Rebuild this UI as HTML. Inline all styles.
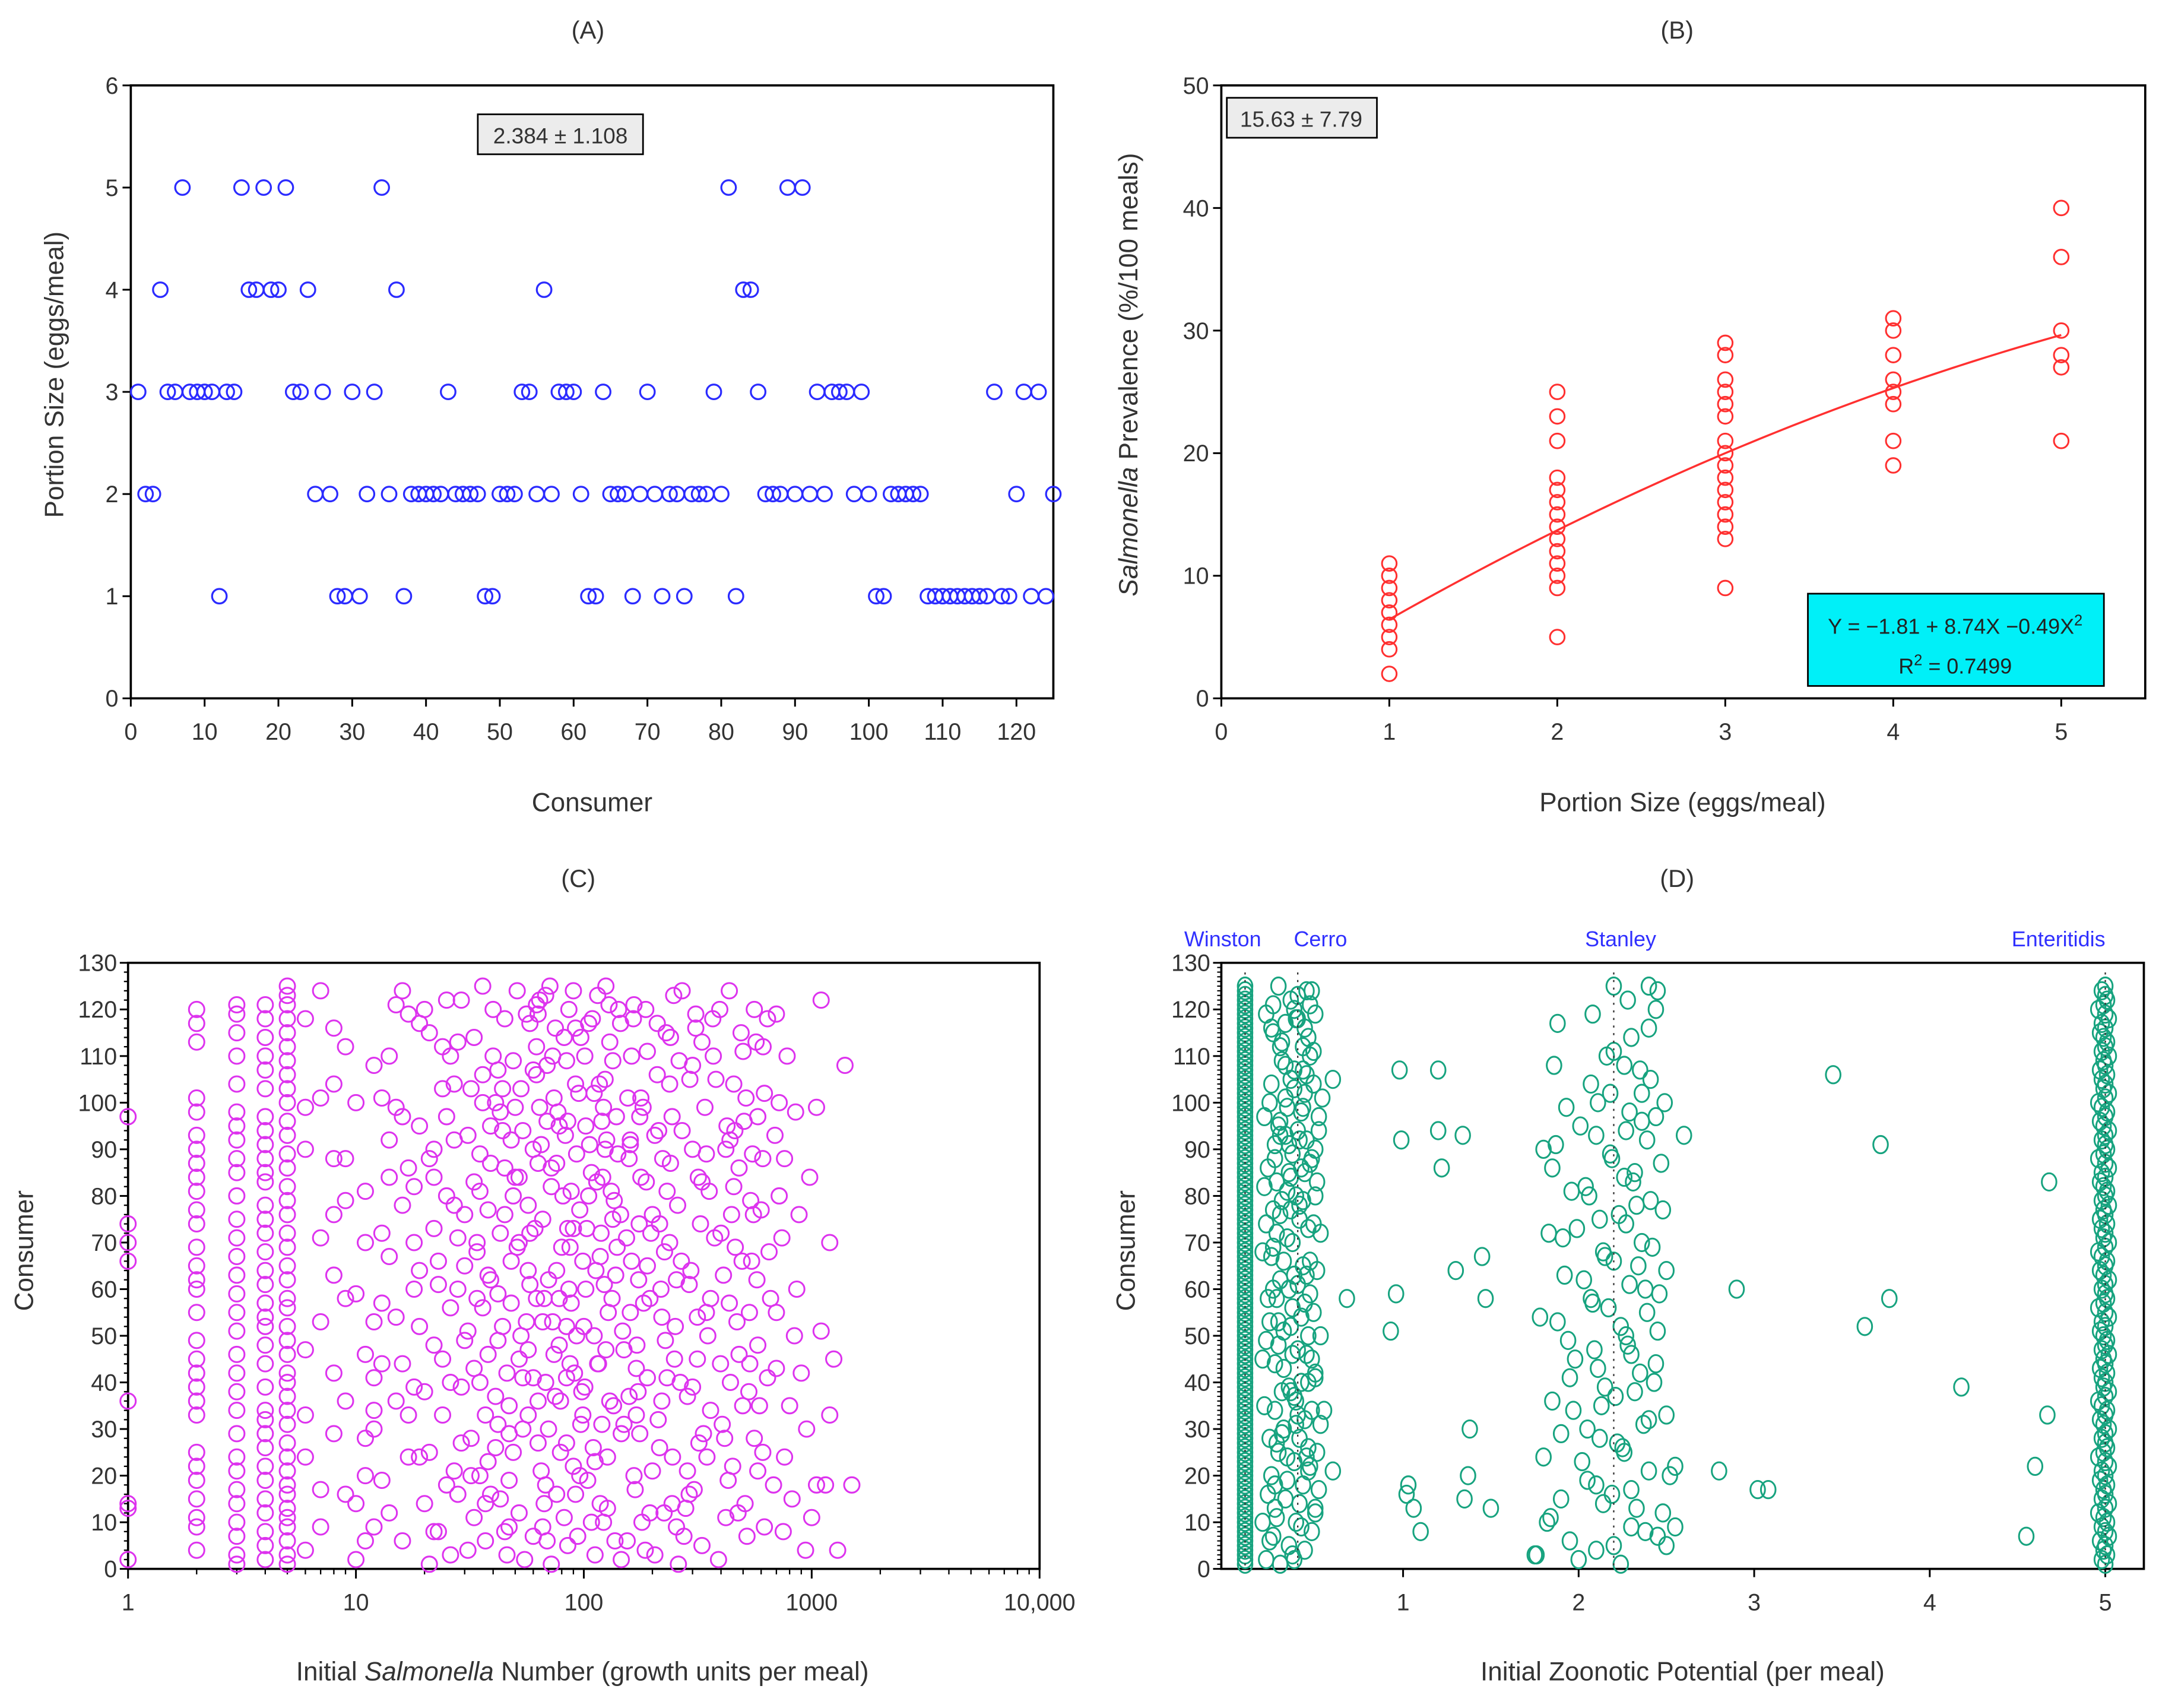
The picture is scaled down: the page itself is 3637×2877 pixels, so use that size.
<!DOCTYPE html>
<html><head><meta charset="utf-8"><style>
html,body{margin:0;padding:0;background:#fff;}
svg{display:block;font-family:"Liberation Sans",sans-serif;}
</style></head><body>
<svg id="fig" width="3637" height="2877" viewBox="0 0 1568 1240" preserveAspectRatio="none" xmlns="http://www.w3.org/2000/svg">
<rect x="0" y="0" width="1568" height="1240" fill="#fff"/>
<text x="427" y="28" font-size="18" text-anchor="middle" fill="#333">(A)</text>
<text x="1218" y="28" font-size="18" text-anchor="middle" fill="#333">(B)</text>
<text x="420" y="644" font-size="18" text-anchor="middle" fill="#333">(C)</text>
<text x="1218" y="644" font-size="18" text-anchor="middle" fill="#333">(D)</text>
<text x="430" y="589" font-size="19" text-anchor="middle" fill="#333">Consumer</text>
<text transform="translate(46,272) rotate(-90)" font-size="19" text-anchor="middle" fill="#333">Portion Size (eggs/meal)</text>
<text x="1222" y="589" font-size="19" text-anchor="middle" fill="#333">Portion Size (eggs/meal)</text>
<text transform="translate(826,272) rotate(-90)" font-size="19" text-anchor="middle" fill="#333"><tspan font-style="italic">Salmonella</tspan> Prevalence (%/100 meals)</text>
<text x="423" y="1220" font-size="19" text-anchor="middle" fill="#333">Initial <tspan font-style="italic">Salmonella</tspan> Number (growth units per meal)</text>
<text transform="translate(24,908) rotate(-90)" font-size="19" text-anchor="middle" fill="#333">Consumer</text>
<text x="1222" y="1220" font-size="19" text-anchor="middle" fill="#333">Initial Zoonotic Potential (per meal)</text>
<text transform="translate(824,908) rotate(-90)" font-size="19" text-anchor="middle" fill="#333">Consumer</text>
<g id="gA"></g>
<g id="gB"></g>
<g id="gC"></g>
<g id="gD"></g>
</svg>
<script>
// ---------- Panel A data ----------
const portionByConsumer = [3,2,2,4,3,3,5,3,3,3,3,1,3,3,5,4,4,5,4,4,5,3,3,4,2,3,2,1,1,3,1,2,3,5,2,4,1,2,2,2,2,2,3,2,2,2,2,1,1,2,2,2,3,3,2,4,2,3,3,3,2,1,1,3,2,2,2,1,2,3,2,1,2,2,1,2,2,2,3,2,5,1,4,4,3,2,2,2,5,2,5,2,3,2,3,3,3,2,3,2,1,1,2,2,2,2,2,1,1,1,1,1,1,1,1,1,3,1,1,2,3,1,3,1,2];
const aXTicks = [0,10,20,30,40,50,60,70,80,90,100,110,120];
const aYTicks = [0,1,2,3,4,5,6];
const aStatText = "2.384 ± 1.108";
// ---------- Panel B data ----------
const bPortion1 = [2,4,5,6,7,8,9,10,11];
const bPortion2 = [5,9,10,11,12,13,14,15,16,17,18,21,23,25];
const bPortion3 = [9,13,14,15,16,17,18,19,20,21,23,24,25,26,28,29];
const bPortion4 = [19,21,24,25,26,28,30,31];
const bPortion5 = [21,27,28,30,36,40];
const bCoef = [-1.81, 8.74, -0.49];
const bXTicks = [0,1,2,3,4,5];
const bYTicks = [0,10,20,30,40,50];
// ---------- Panel C data ----------
const cCol1 = [2,13,14,36,66,70,74,97];
const cCol2 = [4,9,11,15,19,22,25,33,36,39,42,45,49,55,60,62,65,69,74,77,81,84,87,90,93,98,101,113,117,120];
const cCol3 = [1,3,7,10,14,17,21,24,29,34,38,42,46,51,55,59,63,67,71,75,80,85,88,92,95,98,104,110,115,119,121];
const cCol4 = [2,5,8,12,15,19,22,26,29,32,34,39,44,48,52,54,57,61,64,68,72,75,78,83,85,88,91,94,97,103,107,110,114,118,121];
const cCol5 = [1,3,6,9,11,13,16,18,21,24,27,31,34,37,40,42,46,49,52,56,58,62,65,69,72,76,79,82,86,89,93,96,100,103,106,109,112,115,118,121,123,125];
const cCloud = [[6,4],[7,17],[8,29],[6,47],[9,58],[7,71],[8,88],[6,99],[9,112],[7,124],[6,33],[8,63],[7,9],[9,79],[6,118],[8,104],
[11,6],[13,19],[12,34],[16,44],[19,52],[14,67],[22,73],[17,86],[25,97],[12,108],[15,121],[20,14],[29,27],[18,39],[23,61],[27,92],[11,81],[13,101],[21,115],[26,3],[30,49],[10,59],[16,124],[24,33],
[33,11],[38,23],[45,8],[41,37],[52,45],[36,56],[48,66],[57,78],[35,89],[44,103],[62,112],[40,120],[55,2],[68,18],[47,29],[60,41],[73,53],[39,62],[66,75],[50,84],[78,95],[42,107],[58,117],[71,125],[34,70],[64,99],
[85,5],[92,16],[110,26],[98,38],[125,47],[88,57],[140,69],[105,80],[160,91],[95,102],[130,113],[115,123],[180,10],[150,31],[200,21],[170,43],[220,54],[190,65],[145,76],[240,87],[120,96],[210,106],[165,118],[260,1],
[280,13],[320,27],[300,39],[350,50],[290,61],[400,72],[330,83],[460,94],[380,105],[310,116],[520,7],[430,19],[590,35],[480,46],[360,58],[650,68],[540,79],[420,90],[720,100],[500,111],[270,124],[820,15],[610,25],[900,42],
[1000,11],[950,30],[1150,18],[1300,4],[1500,18],[1100,51],[1050,99],[1200,70],[1100,122],[1250,45],[980,84],[860,60],[760,88],[700,55],[1400,108],[1200,33],[880,76],[640,118],[580,97],[750,8],
[10,2],[14,12],[17,24],[12,30],[20,38],[11,46],[15,54],[19,64],[13,72],[18,82],[22,90],[10,100],[14,110],[17,119],[23,8],[28,16],[32,28],[26,40],[31,51],[28,60],[34,68],[25,80],[31,93],[27,104],[33,114],[29,122],
[37,6],[43,15],[49,25],[37,33],[46,42],[53,50],[42,59],[51,69],[38,77],[45,86],[54,94],[41,100],[49,109],[56,119],[36,125],[60,7],[65,21],[70,30],[63,36],[74,46],[67,58],[76,64],[61,73],[72,82],[65,91],[77,98],[69,108],[75,116],[62,121],
[82,11],[90,22],[99,33],[84,41],[93,50],[102,60],[87,69],[96,77],[108,85],[83,93],[92,104],[101,110],[86,120],[112,3],[118,14],[127,24],[135,35],[116,44],[128,55],[138,63],[119,72],[132,81],[141,89],[122,99],[134,109],[145,117],[125,125],
[155,6],[168,17],[176,29],[158,37],[171,48],[183,57],[162,66],[175,74],[188,83],[160,92],[178,101],[190,111],[166,121],[205,3],[225,12],[245,24],[212,32],[232,41],[252,52],[218,60],[238,70],[258,78],[222,88],[244,97],[262,109],[230,115],[248,123],
[275,7],[305,17],[335,29],[285,37],[315,45],[345,55],[295,64],[325,74],[355,81],[300,90],[340,99],[370,110],[310,119],[390,2],[420,11],[450,22],[405,31],[440,40],[470,53],[410,63],[445,76],[480,86],[425,95],[455,104],[490,115],[435,124],
[510,14],[560,28],[530,38],[580,48],[545,66],[600,77],[550,89],[620,102],[570,113],[680,18],[700,43],[660,58],[740,71],[690,93],[780,110],[800,35],[840,50],[620,9],[720,80],[560,120],
[9,16],[8,42],[9,88],[7,101],[8,116],[6,24],[9,36],[7,53],[8,76],[6,90],[11,20],[12,53],[16,78],[14,92],[19,117],[21,25],[24,45],[22,84],[26,110],[30,76],[35,40],[39,95],[44,52],[47,19],[53,103],[58,61],[63,87],[68,123],[79,36],[85,73],[97,114],[104,19],[113,64],[124,90],[137,6],[148,51],[156,101],[173,38],[187,120],[197,72],[213,94],[228,49],[255,9],[268,66],[292,105],[318,84],[347,24],[368,118],[398,44],[438,92],[462,69],[498,35],[505,96],[533,55],[575,62],[612,112],[640,41],[700,119],[760,24],[850,98],[940,4],[1050,18]];
const cCloudExtra = [[10,14],[11,28],[12,41],[13,57],[14,84],[15,99],[16,6],[17,33],[18,70],[19,95],[20,120],[21,1],[22,48],[23,66],[24,103],[25,18],[26,56],[27,78],[28,113],[29,39],
[31,4],[32,20],[33,43],[34,58],[35,81],[36,106],[37,14],[38,63],[39,87],[40,110],[41,26],[42,49],[43,72],[44,94],[45,118],[46,3],[47,35],[48,57],[49,80],[50,99],
[52,12],[54,30],[56,53],[58,72],[60,90],[62,106],[64,122],[66,9],[68,40],[70,62],[72,86],[74,101],[76,16],[78,48],[80,69],[82,114],[84,27],[86,60],[88,81],[90,124],
[94,7],[97,31],[100,52],[103,73],[106,91],[109,118],[112,23],[115,44],[118,67],[121,84],[124,105],[127,13],[130,36],[133,58],[136,79],[139,97],[142,120],[146,2],[150,47],[154,71],
[158,88],[162,110],[166,20],[170,33],[174,62],[178,84],[182,99],[186,4],[190,41],[195,58],[200,76],[205,93],[210,117],[215,26],[220,36],[226,68],[232,81],[238,104],[244,14],[250,45],
[12,9],[15,36],[18,60],[21,88],[24,112],[27,21],[30,65],[33,83],[36,100],[39,16],[42,31],[45,76],[48,92],[51,124],[54,41],[57,64],[60,107],[63,27],[66,53],[69,96],
[72,1],[75,37],[78,58],[81,80],[84,109],[87,44],[90,73],[93,89],[96,20],[99,66],[102,95],[105,117],[108,10],[111,50],[114,83],[117,104],[120,31],[123,61],[126,92],[129,121],
[11,70],[13,44],[16,97],[19,24],[22,8],[25,122],[28,71],[32,103],[35,20],[38,46],[43,98],[47,9],[52,84],[57,33],[62,58],[67,14],[73,110],[79,25],[85,96],[91,42],
[255,62],[270,94],[285,21],[300,108],[315,54],[330,5],[345,89],[360,34],[375,71],[395,120],[415,28],[435,57],[455,82],[475,12],[495,66],[515,101],[535,44],[555,76],[580,21],[610,88],
[330,113],[290,16],[265,40],[240,114],[215,74],[195,12],[176,97],[160,55],[146,29],[134,75],[122,10],[111,102],[101,39],[92,116],[84,52],[76,87],[69,6],[63,119],[57,47],[52,70]];
const cYTicks = [0,10,20,30,40,50,60,70,80,90,100,110,120,130];
const cXTickVals = [1,10,100,1000,10000];
const cXTickLabels = ["1","10","100","1000","10,000"];
// ---------- Panel D data ----------
const dWinstonX = 0.1;
const dConsumers = [1,2,3,4,5,6,7,8,9,10,11,12,13,14,15,16,17,18,19,20,21,22,23,24,25,26,27,28,29,30,31,32,33,34,35,36,37,38,39,40,41,42,43,44,45,46,47,48,49,50,51,52,53,54,55,56,57,58,59,60,61,62,63,64,65,66,67,68,69,70,71,72,73,74,75,76,77,78,79,80,81,82,83,84,85,86,87,88,89,90,91,92,93,94,95,96,97,98,99,100,101,102,103,104,105,106,107,108,109,110,111,112,113,114,115,116,117,118,119,120,121,122,123,124,125];
const dEnteritidisX = [5.0,4.98,5.01,4.99,5.0,4.97,5.02,5.0,4.98,5.01,4.99,4.96,5.0,5.02,4.98,5.0,4.99,5.01,4.97,5.0,4.98,5.02,5.0,4.96,4.99,5.01,5.0,4.98,5.0,5.02,4.99,4.97,5.0,5.01,4.98,4.96,5.0,5.02,4.99,5.0,4.98,5.01,4.97,5.0,4.99,5.02,4.98,5.0,5.01,4.99,4.97,5.0,4.98,5.02,5.0,4.96,4.99,5.01,5.0,4.98,5.0,5.02,4.99,4.97,5.0,5.01,4.98,4.96,5.0,5.02,4.99,5.0,4.98,5.01,4.97,5.0,4.99,5.02,4.98,5.0,5.01,4.99,4.97,5.0,4.98,5.02,5.0,4.96,4.99,5.01,5.0,4.98,5.0,5.02,4.99,4.97,5.0,5.01,4.98,4.96,5.0,5.02,4.99,5.0,4.98,5.01,4.97,5.0,4.99,5.02,4.98,5.0,5.01,4.99,4.97,5.0,4.98,5.02,5.0,4.96,4.99,5.01,5.0,4.98,5.0];
const dCerro = [[0.22,2],[0.35,5],[0.48,8],[0.28,11],[0.41,14],[0.52,17],[0.25,20],[0.38,23],[0.46,26],[0.31,29],[0.44,32],[0.21,35],[0.36,38],[0.5,41],[0.27,44],[0.4,47],[0.53,50],[0.24,53],[0.37,56],[0.47,59],[0.3,62],[0.43,65],[0.2,68],[0.34,71],[0.49,74],[0.26,77],[0.39,80],[0.51,83],[0.23,86],[0.37,89],[0.45,92],[0.29,95],[0.42,98],[0.54,101],[0.25,104],[0.38,107],[0.47,110],[0.31,113],[0.44,116],[0.22,119],[0.36,122],[0.48,124],
[0.3,1],[0.44,4],[0.26,7],[0.39,10],[0.5,13],[0.23,16],[0.34,19],[0.47,22],[0.29,25],[0.41,28],[0.53,31],[0.27,34],[0.38,37],[0.46,40],[0.32,43],[0.45,46],[0.22,49],[0.36,52],[0.49,55],[0.28,58],[0.4,61],[0.51,64],[0.25,67],[0.37,70],[0.46,73],[0.3,76],[0.43,79],[0.21,82],[0.35,85],[0.48,88],[0.27,91],[0.4,94],[0.52,97],[0.24,100],[0.38,103],[0.45,106],[0.31,109],[0.43,112],[0.26,115],[0.39,118],[0.47,121],[0.29,125],
[0.37,3],[0.42,9],[0.33,15],[0.46,21],[0.28,27],[0.4,33],[0.35,39],[0.48,45],[0.32,51],[0.44,57],[0.38,63],[0.26,69],[0.41,75],[0.34,81],[0.47,87],[0.3,93],[0.43,99],[0.36,105],[0.49,111],[0.33,117],[0.4,123],[0.24,6],[0.5,12],[0.27,18],[0.45,24],[0.32,30],[0.39,36],[0.5,42],[0.29,48],[0.42,54],[0.35,60],[0.47,66],[0.28,72],[0.41,78],[0.36,84],[0.5,90],[0.3,96],[0.44,102],[0.33,108],[0.46,114],[0.38,120],[0.55,34],[0.6,105],[0.52,94],[0.53,72],[0.51,25],
[0.2,10],[0.27,13],[0.34,24],[0.42,40],[0.23,58],[0.31,79],[0.44,85],[0.21,97],[0.33,101],[0.4,118],[0.26,121],[0.48,34],[0.37,46],[0.29,53],[0.45,63],[0.22,74],[0.35,91],[0.43,107],[0.3,112],[0.5,119],
[0.24,28],[0.39,31],[0.46,50],[0.32,66],[0.27,88],[0.41,92],[0.34,99],[0.49,104],[0.25,116],[0.38,2],[0.43,18],[0.31,38],[0.2,45],[0.36,77],[0.5,80],[0.28,83],[0.42,86],[0.33,93],[0.45,124],[0.26,60]];
const dStanley = [[1.76,3],[1.95,6],[2.3,9],[2.48,12],[1.9,15],[2.1,18],[2.4,21],[1.8,24],[2.22,27],[2.05,30],[2.5,33],[1.85,36],[2.15,39],[2.35,42],[1.98,45],[2.28,48],[2.45,51],[1.78,54],[2.08,57],[2.38,60],[1.92,63],[2.2,66],[2.42,69],[1.83,72],[2.12,75],[2.33,78],[1.96,81],[2.26,84],[2.47,87],[1.8,90],[2.1,93],[2.36,96],[1.93,99],[2.18,102],[2.41,105],[1.86,108],[2.2,111],[2.3,114],[1.88,117],[2.44,120],[2.2,125],[2.45,124],[2.4,125],
[2.0,2],[2.2,5],[2.38,8],[1.84,11],[2.14,14],[2.3,17],[2.52,20],[2.02,23],[2.25,26],[1.9,29],[2.4,32],[2.13,35],[2.32,38],[1.95,41],[2.44,44],[2.09,47],[2.27,50],[1.88,53],[2.17,56],[2.46,59],[2.03,62],[2.34,65],[2.14,68],[1.91,71],[2.27,74],[2.48,77],[2.06,80],[2.31,83],[1.85,86],[2.18,89],[2.39,92],[2.01,95],[2.29,98],[2.49,100],[2.07,104],[2.35,107],[2.16,110],[2.4,116],[2.08,119],[2.28,122],
[2.24,1],[2.1,4],[2.45,7],[1.82,10],[2.33,13],[2.19,16],[2.05,19],[2.55,22],[2.26,25],[2.12,28],[2.37,31],[1.97,34],[2.21,37],[2.43,40],[2.11,43],[2.3,46],[1.94,49],[2.24,52],[2.39,55],[2.07,58],[2.29,61],[2.5,64],[2.15,67],[2.36,70],[1.99,73],[2.23,76],[2.41,79],[2.04,82],[2.32,85],[2.19,88],[1.87,91],[2.27,94],[2.44,97],[2.11,100],[2.6,93],[1.75,3],[2.55,9],[2.5,5],[2.36,102],[2.26,108]];
const dOutliers = [[0.68,58],[0.93,51],[0.96,59],[0.99,92],[0.98,107],[1.02,16],[1.03,18],[1.06,13],[1.1,8],[1.2,94],[1.22,86],[1.2,107],[1.3,64],[1.34,93],[1.35,15],[1.37,20],[1.38,30],[1.45,67],[1.47,58],[1.5,13],[2.8,21],[2.9,60],[3.02,17],[3.08,17],[3.45,106],[3.63,52],[3.72,91],[3.77,58],[4.18,39],[4.55,7],[4.6,22],[4.67,33],[4.68,83],[0.6,21]];
const dSerotypeNames = ["Winston","Cerro","Stanley","Enteritidis"];
const dSerotypeX = [0.1,0.4,2.2,5.0];
const dXTicks = [1,2,3,4,5];
const dYTicks = [0,10,20,30,40,50,60,70,80,90,100,110,120,130];

const NS = "http://www.w3.org/2000/svg";
function mk(parent, tag, attrs){const e=document.createElementNS(NS,tag);for(const k in attrs)e.setAttribute(k,attrs[k]);parent.appendChild(e);return e;}
function txt(parent, x, y, s, size, anchor, fill){const t=mk(parent,'text',{x:x,y:y,'font-size':size,'text-anchor':anchor||'middle',fill:fill||'#333'});t.textContent=s;return t;}

// ===== Panel A =====
(function(){
  const g=document.getElementById('gA');
  const L=95,R=765,T=62,B=507;
  const sx=v=>L+(v/125)*(R-L), sy=v=>B-(v/6)*(B-T);
  const box=mk(g,'rect',{x:L,y:T,width:R-L,height:B-T,fill:'none',stroke:'#000','stroke-width':1.6});
  
  
  aXTicks.forEach(v=>{mk(g,'line',{x1:sx(v),y1:B,x2:sx(v),y2:B+6,stroke:'#000','stroke-width':1.3});
    const t=txt(g,sx(v),B+30,String(v),17);
    
    });
  aYTicks.forEach(v=>{mk(g,'line',{x1:L-6,y1:sy(v),x2:L,y2:sy(v),stroke:'#000','stroke-width':1.3});
    const t=txt(g,L-9,sy(v)+6,String(v),17,'end');
    
    });
  portionByConsumer.forEach((v,i)=>{
    const c=mk(g,'circle',{cx:sx(i+1),cy:sy(v),r:5.3,fill:'none',stroke:'#2b2bff','stroke-width':1.4});
    
    
  });
  const r=mk(g,'rect',{x:347,y:83,width:120,height:29,fill:'#ececec',stroke:'#000','stroke-width':1.2});
  
  
  const t=txt(g,407,104,aStatText,16);
  
  
})();

// ===== Panel B =====
(function(){
  const g=document.getElementById('gB');
  const L=887,R=1558,T=62,B=507;
  const sx=v=>L+v*122, sy=v=>B-(v/50)*(B-T);
  const box=mk(g,'rect',{x:L,y:T,width:R-L,height:B-T,fill:'none',stroke:'#000','stroke-width':1.6});
  
  
  bXTicks.forEach(v=>{mk(g,'line',{x1:sx(v),y1:B,x2:sx(v),y2:B+6,stroke:'#000','stroke-width':1.3});
    const t=txt(g,sx(v),B+30,String(v),17);
    
    });
  bYTicks.forEach(v=>{mk(g,'line',{x1:L-6,y1:sy(v),x2:L,y2:sy(v),stroke:'#000','stroke-width':1.3});
    const t=txt(g,L-9,sy(v)+6,String(v),17,'end');
    
    });
  [bPortion1,bPortion2,bPortion3,bPortion4,bPortion5].forEach((arr,k)=>{
    arr.forEach(v=>{
      const c=mk(g,'circle',{cx:sx(k+1),cy:sy(v),r:5.3,fill:'none',stroke:'#ff3030','stroke-width':1.3});
      
      
    });
  });
  let d='';
  for(let i=0;i<=80;i++){const x=1+i*4/80;const y=bCoef[0]+bCoef[1]*x+bCoef[2]*x*x;d+=(i?'L':'M')+sx(x).toFixed(2)+','+sy(y).toFixed(2);}
  const p=mk(g,'path',{d:d,fill:'none',stroke:'#ff3030','stroke-width':1.5});
  
  
  const r=mk(g,'rect',{x:891,y:71,width:109,height:29,fill:'#ececec',stroke:'#000','stroke-width':1.2});
  
  
  const t=txt(g,945,92,'15.63 ± 7.79',16);
  
  
  const e=mk(g,'rect',{x:1313,y:431,width:215,height:67,fill:'#00f0f8',stroke:'#000','stroke-width':1.2});
  
  
  const t1=mk(g,'text',{x:1420,y:460,'font-size':15.5,'text-anchor':'middle',fill:'#222'});
  t1.innerHTML='Y = −1.81 + 8.74X −0.49X<tspan dy="-6" font-size="11">2</tspan>';
  
  
  const t2=mk(g,'text',{x:1420,y:489,'font-size':15.5,'text-anchor':'middle',fill:'#222'});
  t2.innerHTML='R<tspan dy="-6" font-size="11">2</tspan><tspan dy="6"> = 0.7499</tspan>';
  
  
})();

// ===== Panel C =====
(function(){
  const g=document.getElementById('gC');
  const L=93,R=755,T=699,B=1139;
  const sx=v=>L+Math.log10(v)*(R-L)/4, sy=v=>B-(v/130)*(B-T);
  const box=mk(g,'rect',{x:L,y:T,width:R-L,height:B-T,fill:'none',stroke:'#000','stroke-width':1.6});
  
  
  cXTickVals.forEach((v,i)=>{mk(g,'line',{x1:sx(v),y1:B,x2:sx(v),y2:B+7,stroke:'#000','stroke-width':1.3});
    const t=txt(g,sx(v),B+30,cXTickLabels[i],17);
    
    
    if(v<10000){for(let m=2;m<10;m++){mk(g,'line',{x1:sx(v*m),y1:B,x2:sx(v*m),y2:B+4,stroke:'#000','stroke-width':1});}}});
  cYTicks.forEach(v=>{mk(g,'line',{x1:L-6,y1:sy(v),x2:L,y2:sy(v),stroke:'#000','stroke-width':1.3});
    if(v<130)for(let m=2;m<10;m+=2)mk(g,'line',{x1:L-3,y1:sy(v+m),x2:L,y2:sy(v+m),stroke:'#000','stroke-width':1});
    const t=txt(g,L-8,sy(v)+6,String(v),17,'end');
    
    });
  const col='#dd33ee';
  function pt(x,y){const c=mk(g,'circle',{cx:sx(x),cy:sy(y),r:5.6,fill:'none',stroke:col,'stroke-width':1.3});
    
    }
  [cCol1,cCol2,cCol3,cCol4,cCol5].forEach((arr,k)=>arr.forEach(y=>pt(k+1,y)));
  cCloud.forEach(p=>pt(p[0],p[1]));
  cCloudExtra.forEach(p=>pt(p[0],p[1]));
})();

// ===== Panel D =====
(function(){
  const g=document.getElementById('gD');
  const L=887,R=1557,T=699,B=1139;
  const sx=v=>891.5+v*127.5, sy=v=>B-(v/130)*(B-T);
  const box=mk(g,'rect',{x:L,y:T,width:R-L,height:B-T,fill:'none',stroke:'#000','stroke-width':1.6});
  
  
  dXTicks.forEach(v=>{mk(g,'line',{x1:sx(v),y1:B,x2:sx(v),y2:B+6,stroke:'#000','stroke-width':1.3});
    const t=txt(g,sx(v),B+30,String(v),17);
    
    });
  dYTicks.forEach(v=>{mk(g,'line',{x1:L-6,y1:sy(v),x2:L,y2:sy(v),stroke:'#000','stroke-width':1.3});
    if(v<130)for(let m=1;m<10;m++)mk(g,'line',{x1:L-3,y1:sy(v+m),x2:L,y2:sy(v+m),stroke:'#000','stroke-width':0.9});
    const t=txt(g,L-8,sy(v)+6,String(v),17,'end');
    
    });
  const col='#17a37f';
  function pt(x,y){const c=mk(g,'ellipse',{cx:sx(x),cy:sy(y),rx:5.3,ry:6.3,fill:'none',stroke:col,'stroke-width':1.3});
    
    }
  dConsumers.forEach(y=>pt(dWinstonX,y));
  dConsumers.forEach((y,i)=>pt(dEnteritidisX[i],y));
  dCerro.forEach(p=>pt(p[0],p[1]));
  dStanley.forEach(p=>pt(p[0],p[1]));
  dOutliers.forEach(p=>pt(p[0],p[1]));
  dSerotypeX.forEach((x,i)=>{
    const l=mk(g,'line',{x1:sx(x),y1:706,x2:sx(x),y2:B,stroke:'#333','stroke-width':1,'stroke-dasharray':'1.5,4'});
    
    
    const lx=[888,959,1177,1495][i];
    const t=txt(g,lx,687,dSerotypeNames[i],15.5,'middle','#3030ff');
    
    
  });
})();
</script>
</body></html>
